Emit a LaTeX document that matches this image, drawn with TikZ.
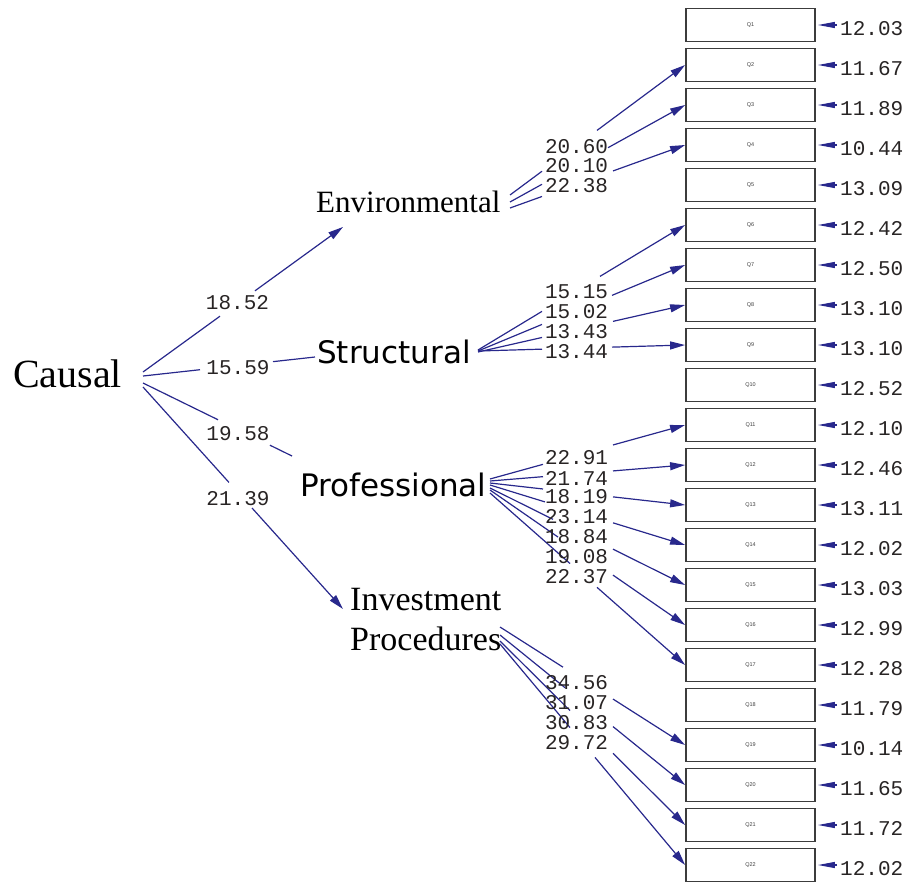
\documentclass[tikz,border=0pt]{standalone}
\usepackage{fontspec}
\usetikzlibrary{arrows.meta,calc}
\newfontfamily\tnr{Liberation Serif}
\newfontfamily\dvs{DejaVu Sans}
\newfontfamily\cour{Liberation Mono}
\newfontfamily\arl{Liberation Sans}
\definecolor{pathblue}{RGB}{40,40,140}
\definecolor{numgray}{RGB}{40,36,36}
\definecolor{boxgray}{RGB}{60,60,60}

\tikzset{
  link/.style={draw=pathblue, line width=1.2pt},
  tip/.style={-{Triangle[length=15pt,width=8pt]}},
  item/.style={draw=boxgray, line width=1.8pt, fill=white, minimum width=129pt,
    minimum height=33pt, inner sep=0pt, font=\arl\fontsize{5.5}{6}\selectfont, text=black!75},
  coef/.style={font=\cour\fontsize{21}{21}\selectfont, text=numgray, inner sep=0pt},
  errarrow/.style={draw=pathblue, line width=1.2pt, -{Triangle[length=17pt,width=6pt]}},
  latent/.style={inner sep=0pt, anchor=base west},
}

% a straight path from #2 to #3, interrupted between x=#4 and x=#5 (where its value sits)
\newcommand\gappath[5][]{%
  \draw[link] let \p1=(#2), \p2=(#3) in
    (\p1) -- ({#4pt},{\y1+(\y2-\y1)*((#4pt-\x1)/(\x2-\x1))});
  \draw[link,#1] let \p1=(#2), \p2=(#3) in
    ({#5pt},{\y1+(\y2-\y1)*((#5pt-\x1)/(\x2-\x1))}) -- (\p2);
}

\begin{document}
\begin{tikzpicture}[x=1pt,y=-1pt]
\useasboundingbox (0,0) rectangle (904,881);

% observed items with their error variances
\foreach \i/\v in {1/12.03, 2/11.67, 3/11.89, 4/10.44, 5/13.09, 6/12.42, 7/12.50,
                   8/13.10, 9/13.10, 10/12.52, 11/12.10, 12/12.46, 13/13.11, 14/12.02,
                   15/13.03, 16/12.99, 17/12.28, 18/11.79, 19/10.14, 20/11.65,
                   21/11.72, 22/12.02}{
  \node[item] (Q\i) at (750.5, {25+40*(\i-1)}) {Q\i};
  \coordinate (ep\i) at (837, {25+40*(\i-1)});
  \draw[errarrow] (ep\i) -- ([xshift=2pt]Q\i.east);
  \node[coef, anchor=base west] (e\i) at (840, {35+40*(\i-1)}) {\v};
}

% latent variables
\node[latent, font=\tnr\fontsize{40}{40}\selectfont] (causal) at (13,387) {Causal};
\node[latent, font=\tnr\fontsize{31}{31}\selectfont] (env) at (316,212) {Environmental};
\node[latent, font=\dvs\fontsize{31}{31}\selectfont] (str) at (317,363) {Structural};
\node[latent, font=\dvs\fontsize{31}{31}\selectfont] (pro) at (300,496) {Professional};
\node[latent, font=\tnr\fontsize{34}{40}\selectfont, align=left] (inv) at (350,650) {Investment\\Procedures};

% ports on the latent variables
\coordinate (cE) at (143,372);
\coordinate (cS) at (143,376);
\coordinate (cP) at (143,383);
\coordinate (cI) at (143,387);
\coordinate (envIn) at (343,227);
\coordinate (strIn) at (315,357);
\coordinate (proIn) at (292,456);
\coordinate (invIn) at (343,609);

\coordinate (eo2) at (510,195);
\coordinate (eo3) at (510,202);
\coordinate (eo4) at (510,208);
\coordinate (so6) at (478,350);
\coordinate (so7) at (478,351);
\coordinate (so8) at (478,352);
\coordinate (so9) at (478,351);
\coordinate (po11) at (490,479);
\coordinate (po12) at (490,481);
\coordinate (po13) at (490,483);
\coordinate (po14) at (490,485);
\coordinate (po15) at (490,488);
\coordinate (po16) at (490,490);
\coordinate (po17) at (490,493);
\coordinate (io19) at (500,627);
\coordinate (io20) at (500,635);
\coordinate (io21) at (500,641);
\coordinate (io22) at (500,644);

% second-order paths
\gappath[tip]{cE}{envIn}{220}{255}
\gappath{cS}{strIn}{200}{273}
\gappath{cP}{proIn}{218}{270}
\gappath[tip]{cI}{invIn}{229}{252}

% first-order loadings
\gappath[tip]{eo2}{Q2.west}{542}{597}
\gappath[tip]{eo3}{Q3.west}{542}{608}
\gappath[tip]{eo4}{Q4.west}{542}{613}

\gappath[tip]{so6}{Q6.west}{542}{600}
\gappath[tip]{so7}{Q7.west}{542}{612}
\gappath[tip]{so8}{Q8.west}{542}{613}
\gappath[tip]{so9}{Q9.west}{542}{612}

\gappath[tip]{po11}{Q11.west}{543}{613}
\gappath[tip]{po12}{Q12.west}{543}{613}
\gappath[tip]{po13}{Q13.west}{543}{613}
\gappath[tip]{po14}{Q14.west}{545}{613}
\gappath[tip]{po15}{Q15.west}{553}{613}
\gappath[tip]{po16}{Q16.west}{558}{613}
\gappath[tip]{po17}{Q17.west}{570}{597}

\gappath[tip]{io19}{Q19.west}{563}{613}
\gappath[tip]{io20}{Q20.west}{565}{613}
\gappath[tip]{io21}{Q21.west}{570}{613}
\gappath[tip]{io22}{Q22.west}{570}{595}

% t-values
\node[coef] (tE) at (237.5,303) {18.52};
\node[coef] (tS) at (238,368) {15.59};
\node[coef] (tP) at (238,434) {19.58};
\node[coef] (tI) at (238,499) {21.39};

\foreach \i/\v/\y in {2/20.60/147, 3/20.10/166, 4/22.38/186,
                      6/15.15/292, 7/15.02/312, 8/13.43/332, 9/13.44/352,
                      11/22.91/458, 12/21.74/478, 13/18.19/497, 14/23.14/517,
                      15/18.84/537, 16/19.08/557, 17/22.37/577,
                      19/34.56/683, 20/31.07/703, 21/30.83/723, 22/29.72/743}{
  \node[coef] (l\i) at (576.5,\y) {\v};
}
\end{tikzpicture}
\end{document}
